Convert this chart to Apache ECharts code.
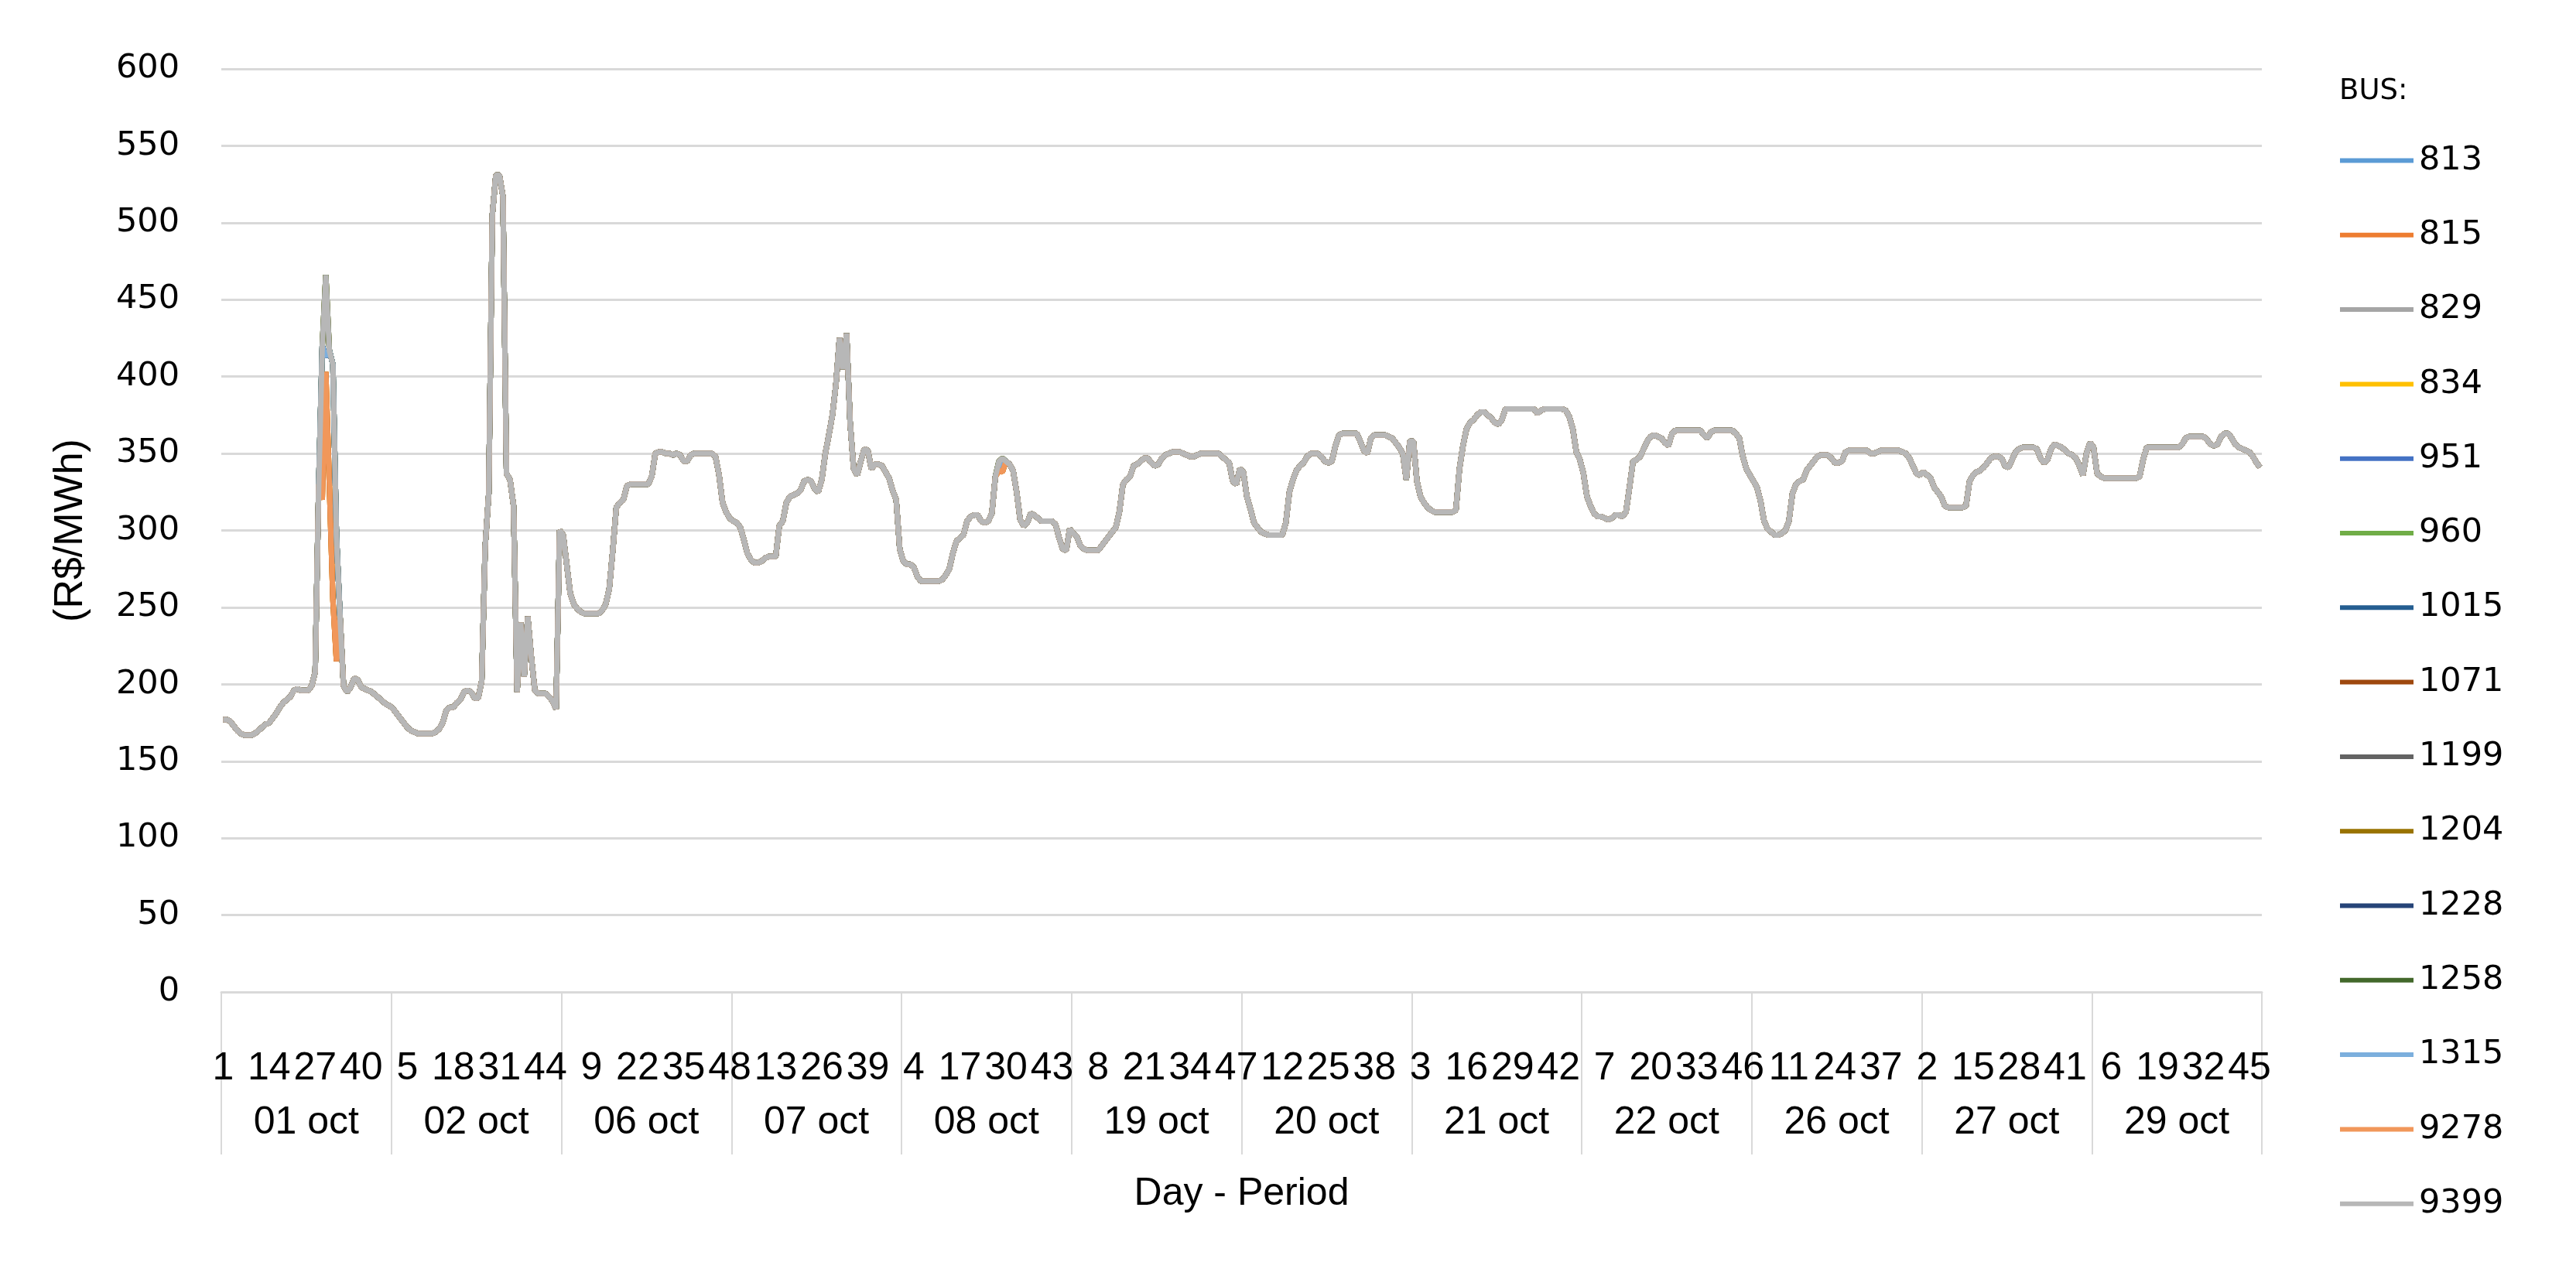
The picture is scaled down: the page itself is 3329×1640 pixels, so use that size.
<!DOCTYPE html>
<html>
<head>
<meta charset="utf-8">
<title>Preço por barra</title>
<script src="https://cdn.jsdelivr.net/npm/echarts@6/dist/echarts.min.js"></script>
<style>
    html, body { margin: 0; padding: 0; background: #ffffff; }
    #chart { width: 3329px; height: 1640px; }
</style>
</head>
<body>
<div id="chart"></div>
<script>
// day groups and the 48 half-hour periods of each day
const days = ["01 oct", "02 oct", "06 oct", "07 oct", "08 oct", "19 oct", "20 oct", "21 oct", "22 oct", "26 oct", "27 oct", "29 oct"];
const periods = [1, 2, 3, 4, 5, 6, 7, 8, 9, 10, 11, 12, 13, 14, 15, 16, 17, 18, 19, 20, 21, 22, 23, 24,
    25, 26, 27, 28, 29, 30, 31, 32, 33, 34, 35, 36, 37, 38, 39, 40, 41, 42, 43, 44, 45, 46, 47, 48];
const yTicks = [0, 50, 100, 150, 200, 250, 300, 350, 400, 450, 500, 550, 600];

// price (R$/MWh) per period, one array per day
const oct01 = [177, 177, 176, 173, 170, 168, 167, 167, 167, 168, 170, 172, 174, 175, 178, 181, 185, 188, 190, 192,
    196, 197, 196, 196, 196, 199, 208, 330, 420, 466, 417, 408, 297, 245, 199, 195, 198, 204, 203, 198,
    197, 196, 195, 193, 191, 189, 187, 186];
const oct02 = [184, 181, 178, 175, 172, 170, 169, 168, 168, 168, 168, 168, 169, 171, 175, 183, 185, 185, 188, 190,
    195, 196, 195, 191, 191, 202, 290, 324, 505, 531, 531, 517, 337, 333, 316, 195, 240, 205, 244, 218,
    196, 194, 194, 194, 192, 189, 184, 300];
const oct06 = [297, 278, 259, 252, 249, 247, 246, 246, 246, 246, 246, 248, 252, 262, 287, 315, 318, 320, 329, 330,
    330, 330, 330, 330, 330, 335, 350, 351, 351, 350, 350, 349, 350, 349, 345, 345, 349, 350, 350, 350,
    350, 350, 350, 348, 336, 318, 312, 308];
const oct07 = [306, 305, 302, 294, 285, 281, 279, 279, 280, 282, 283, 283, 283, 303, 306, 318, 322, 323, 324, 326,
    332, 333, 332, 327, 325, 333, 350, 362, 375, 395, 425, 405, 428, 370, 340, 336, 345, 353, 352, 340,
    343, 343, 342, 338, 334, 326, 320, 288];
const oct08 = [280, 278, 278, 276, 270, 267, 267, 267, 267, 267, 267, 268, 271, 275, 285, 293, 295, 297, 306, 309,
    310, 310, 306, 305, 306, 311, 335, 345, 347, 345, 343, 339, 325, 307, 303, 305, 311, 310, 308, 306,
    306, 306, 306, 304, 295, 288, 287, 301];
const oct19 = [298, 296, 290, 288, 287, 287, 287, 287, 290, 293, 296, 299, 302, 312, 330, 333, 335, 342, 343, 345,
    347, 347, 344, 342, 343, 347, 349, 350, 351, 351, 351, 350, 349, 348, 348, 349, 350, 350, 350, 350,
    350, 350, 348, 346, 344, 332, 330, 340];
const oct20 = [338, 322, 314, 305, 302, 299, 298, 297, 297, 297, 297, 297, 305, 325, 333, 339, 342, 344, 348, 350,
    350, 350, 348, 345, 344, 345, 355, 362, 363, 363, 363, 363, 363, 358, 352, 350, 360, 362, 362, 362,
    362, 361, 360, 357, 354, 350, 333, 358];
const oct21 = [358, 332, 322, 318, 315, 313, 312, 312, 312, 312, 312, 312, 313, 340, 355, 366, 370, 372, 375, 377,
    377, 375, 373, 370, 369, 372, 379, 379, 379, 379, 379, 379, 379, 379, 379, 376, 378, 379, 379, 379,
    379, 379, 379, 378, 374, 366, 351, 346];
const oct22 = [337, 322, 316, 311, 309, 309, 308, 307, 308, 310, 310, 309, 312, 328, 345, 346, 348, 353, 358, 361,
    362, 361, 360, 357, 355, 363, 365, 365, 365, 365, 365, 365, 365, 365, 362, 360, 364, 365, 365, 365,
    365, 365, 365, 363, 360, 348, 340, 336];
const oct26 = [332, 328, 319, 306, 301, 299, 297, 297, 298, 300, 306, 324, 330, 332, 333, 339, 342, 345, 348, 349,
    349, 349, 347, 344, 344, 345, 351, 352, 352, 352, 352, 352, 352, 350, 350, 351, 352, 352, 352, 352,
    352, 352, 351, 350, 347, 342, 337, 336];
const oct27 = [338, 336, 334, 328, 325, 322, 316, 315, 315, 315, 315, 315, 316, 332, 336, 338, 339, 341, 344, 347,
    348, 348, 347, 342, 341, 346, 351, 353, 354, 354, 354, 354, 353, 347, 344, 346, 353, 356, 355, 354,
    352, 350, 349, 347, 342, 336, 350, 357];
const oct29 = [354, 337, 335, 334, 334, 334, 334, 334, 334, 334, 334, 334, 334, 335, 346, 354, 354, 354, 354, 354,
    354, 354, 354, 354, 354, 356, 360, 361, 361, 361, 361, 361, 359, 356, 355, 356, 361, 363, 363, 360,
    356, 354, 353, 352, 351, 348, 344, 341];

// the few points where some buses part from the common curve (index in the whole series)
const splitIdx = [28, 29, 30, 31, 32, 219, 220];
const orangeSplit = [320, 403, 330, 255, 215, 339, 338];
const blueSplit = [420, 413, 417, 408, 297, 342, 346];

const buses = ["813", "815", "829", "834", "951", "960", "1015", "1071", "1199", "1204", "1228", "1258", "1315", "9278", "9399"];
const busColors = ["#5B9BD5", "#ED7D31", "#A5A5A5", "#FFC000", "#4472C4", "#70AD47", "#255E91", "#9E480E",
    "#636363", "#997300", "#264478", "#43682B", "#7CAFDD", "#F1975A", "#B7B7B7"];
const busGroup = ["blue", "orange", "gray", "orange", "blue", "gray", "blue", "orange",
    "gray", "gray", "blue", "gray", "blue", "orange", "gray"];

const price = [].concat(oct01, oct02, oct06, oct07, oct08, oct19, oct20, oct21, oct22, oct26, oct27, oct29);
const categories = [];
days.forEach(function (d) {
    periods.forEach(function (p) { categories.push(String(p)); });
});

function busData(group) {
    const data = price.slice();
    if (group === "orange") splitIdx.forEach(function (k, j) { data[k] = orangeSplit[j]; });
    if (group === "blue") splitIdx.forEach(function (k, j) { data[k] = blueSplit[j]; });
    return data;
}

const chart = echarts.init(document.getElementById("chart"));
const gridColor = "#D9D9D9";
const textFont = "Liberation Sans, Arial, sans-serif";
const wideFont = "DejaVu Sans, Verdana, sans-serif";

const option = {
    animation: false,
    backgroundColor: "#ffffff",
    grid: { left: 286, right: 406, top: 89, bottom: 358 },
    graphic: [{
        type: "text",
        left: 3023,
        top: 100,
        style: { text: "BUS:", fontSize: 37, fontFamily: wideFont, fill: "#000000" },
    }],
    legend: {
        orient: "vertical",
        left: 3019,
        top: 181,
        icon: "rect",
        itemWidth: 95,
        itemHeight: 6,
        itemGap: 53.3,
        selectedMode: false,
        data: buses,
        textStyle: { fontSize: 43, fontFamily: wideFont, color: "#000000", padding: [0, 0, 0, 2] },
    },
    xAxis: [
        {
            type: "category",
            data: categories,
            boundaryGap: true,
            axisLine: { lineStyle: { color: gridColor, width: 3 } },
            axisTick: {
                show: true,
                interval: function (i) { return i % periods.length === 0; },
                length: 210,
                lineStyle: { color: gridColor, width: 2 },
            },
            axisLabel: {
                interval: function (i) { return i % 13 === 0; },
                fontSize: 50,
                fontFamily: textFont,
                color: "#000000",
                margin: 74,
            },
            name: "Day - Period",
            nameLocation: "middle",
            nameGap: 236,
            nameTextStyle: { fontSize: 50, fontFamily: textFont, color: "#000000" },
        },
        {
            type: "category",
            data: days,
            position: "bottom",
            offset: 70,
            boundaryGap: true,
            axisLine: { show: false },
            axisTick: { show: false },
            axisLabel: { fontSize: 50, fontFamily: textFont, color: "#000000", margin: 74 },
        },
    ],
    yAxis: {
        type: "value",
        min: yTicks[0],
        max: yTicks[yTicks.length - 1],
        interval: yTicks[1] - yTicks[0],
        axisLine: { show: false },
        axisTick: { show: false },
        axisLabel: { fontSize: 43, fontFamily: wideFont, color: "#000000", margin: 54 },
        splitLine: { lineStyle: { color: gridColor, width: 3 } },
        name: "(R$/MWh)",
        nameLocation: "middle",
        nameGap: 168,
        nameTextStyle: { fontSize: 52, fontFamily: textFont, color: "#000000" },
    },
    series: buses.map(function (b, k) {
        return {
            name: b,
            type: "line",
            data: busData(busGroup[k]),
            symbol: "none",
            lineStyle: { color: busColors[k], width: 7 },
            itemStyle: { color: busColors[k] },
        };
    }),
};
chart.setOption(option);
</script>
</body>
</html>
